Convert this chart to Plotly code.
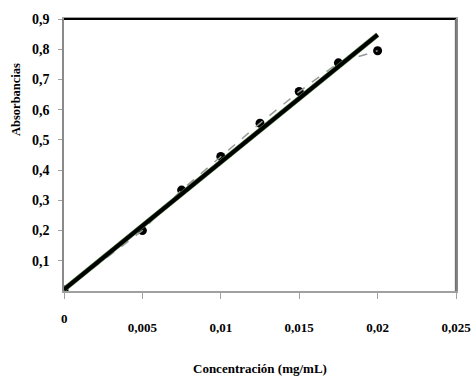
import plotly.graph_objects as go

conc = [0, 0.005, 0.0075, 0.01, 0.0125, 0.015, 0.0175, 0.02]
absorb = [0.003, 0.2, 0.334, 0.445, 0.555, 0.66, 0.755, 0.795]
fit_x = [0, 0.02]
fit_y = [0.005, 0.848]

x_ticks = [0, 0.005, 0.01, 0.015, 0.02, 0.025]
x_labels = ["", "0,005", "0,01", "0,015", "0,02", "0,025"]
y_ticks = [0.1, 0.2, 0.3, 0.4, 0.5, 0.6, 0.7, 0.8, 0.9]
y_labels = ["0,1", "0,2", "0,3", "0,4", "0,5", "0,6", "0,7", "0,8", "0,9"]

font_fam = "Liberation Serif"

fig = go.Figure()
fig.add_trace(go.Scatter(x=conc, y=absorb, mode="markers",
                         marker=dict(color="black", size=9), showlegend=False))
fig.add_trace(go.Scatter(x=conc, y=absorb, mode="lines",
                         line=dict(color="#9a9a9a", width=1.5, dash="dash"), showlegend=False))
fig.add_trace(go.Scatter(x=fit_x, y=fit_y, mode="lines",
                         line=dict(color="#4a7a3a", width=5), showlegend=False))
fig.add_trace(go.Scatter(x=fit_x, y=fit_y, mode="lines",
                         line=dict(color="black", width=4), showlegend=False))

fig.update_layout(
    width=471, height=380,
    margin=dict(l=64, r=15, t=19, b=89),
    plot_bgcolor="white", paper_bgcolor="white",
    font=dict(family=font_fam, color="black"),
    xaxis=dict(range=[0, 0.025], tickvals=x_ticks, ticktext=x_labels,
               showgrid=False, zeroline=False, showline=True, linecolor="#a0a0a0",
               linewidth=1.5, mirror=True, ticks="outside", ticklen=6, tickcolor="#a0a0a0",
               ticklabelstandoff=18, ticklabeloverflow="allow", automargin=False,
               tickfont=dict(family=font_fam, size=13, color="black", weight="bold")),
    yaxis=dict(range=[0, 0.9], tickvals=y_ticks, ticktext=y_labels,
               showgrid=False, zeroline=False, showline=True, linecolor="#8a8a8a",
               linewidth=1.5, mirror=True, ticks="outside", ticklen=4, tickcolor="#a0a0a0",
               ticklabelstandoff=6, automargin=False,
               tickfont=dict(family=font_fam, size=14, color="black", weight="bold")),
    shapes=[
        dict(type="line", xref="paper", yref="paper", x0=0, x1=1, y0=1, y1=1,
             line=dict(color="black", width=2), layer="above"),
        dict(type="line", xref="paper", yref="paper", x0=0.999, x1=0.999, y0=0, y1=1,
             line=dict(color="#707070", width=1.5), layer="above"),
    ],
    annotations=[
        dict(text="0", x=0, y=-27/272, xref="x", yref="paper", showarrow=False,
             font=dict(family=font_fam, size=13, color="black", weight="bold"),
             xanchor="center", yanchor="middle"),
        dict(text="Concentración (mg/mL)", x=(260-64)/392, y=-(368-291)/272,
             xref="paper", yref="paper", showarrow=False,
             font=dict(family=font_fam, size=13, color="black", weight="bold"),
             xanchor="center", yanchor="middle"),
        dict(text="Absorbancias", x=-(64-16)/392, y=(291-100)/272,
             xref="paper", yref="paper", showarrow=False, textangle=-90,
             font=dict(family=font_fam, size=12.5, color="black", weight="bold"),
             xanchor="center", yanchor="middle"),
    ],
)

fig.write_html("out.html", config={"displayModeBar": False},
               post_script="document.body.style.margin='0';document.body.style.overflow='hidden';")
